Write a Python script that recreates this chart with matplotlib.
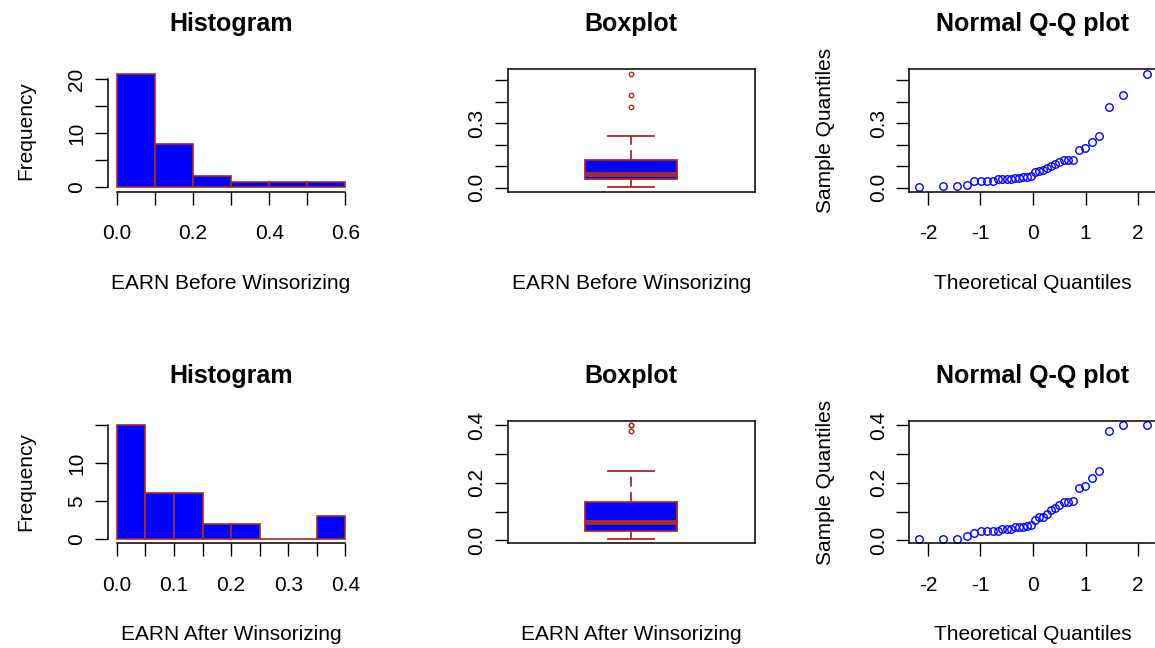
import numpy as np
import matplotlib
matplotlib.use("Agg")
import matplotlib.pyplot as plt
from statistics import NormalDist

plt.rcParams["font.family"] = ["Liberation Sans", "DejaVu Sans"]

# sorted EARN values for the 34 firms, before and after winsorizing
earn_before = [0.003, 0.010, 0.010, 0.011, 0.029, 0.029, 0.029, 0.030, 0.040,
               0.040, 0.040, 0.041, 0.047, 0.047, 0.048, 0.049, 0.056, 0.071,
               0.078, 0.082, 0.091, 0.101, 0.109, 0.121, 0.128, 0.129, 0.130,
               0.175, 0.183, 0.211, 0.239, 0.377, 0.433, 0.530]
earn_after = [0.006, 0.006, 0.006, 0.014, 0.025, 0.034, 0.034, 0.034, 0.034,
              0.041, 0.041, 0.041, 0.046, 0.046, 0.047, 0.052, 0.055, 0.072,
              0.080, 0.080, 0.092, 0.106, 0.113, 0.124, 0.132, 0.132, 0.136,
              0.182, 0.189, 0.216, 0.241, 0.379, 0.400, 0.400]

bins_before = [0.0, 0.1, 0.2, 0.3, 0.4, 0.5, 0.6]
bins_after = [0.0, 0.05, 0.1, 0.15, 0.2, 0.25, 0.3, 0.35, 0.4]

xlabels = ["EARN Before Winsorizing", "EARN After Winsorizing"]

hist_xticks = [[0.0, 0.2, 0.4, 0.6], [0.0, 0.1, 0.2, 0.3, 0.4]]
hist_yticks = [[0, 5, 10, 15, 20], [0, 5, 10, 15]]
hist_ylabels = [["0", "", "10", "", "20"], ["0", "5", "10", ""]]
val_yticks = [[0.0, 0.1, 0.2, 0.3, 0.4, 0.5], [0.0, 0.1, 0.2, 0.3, 0.4]]
val_ylabels = [["0.0", "", "", "0.3", "", ""], ["0.0", "", "0.2", "", "0.4"]]
qq_xticks = [-2, -1, 0, 1, 2]

BROWN = "#A52A2A"
W, H = 1155, 648
fig = plt.figure(figsize=(W / 100, H / 100), dpi=100)

col_left = [107.6, 507.7, 909.5]
col_w = 247.0
rows = [(69.3, 191.6), (420.7, 543.3)]


def px_axes(x0, y0, y1):
    return fig.add_axes([x0 / W, 1 - y1 / H, col_w / W, (y1 - y0) / H])


def style(ax, top, bottom, title):
    h = bottom - top
    ax.tick_params(direction="out", length=9.4, width=1.0, labelsize=15,
                   colors="black")
    ax.tick_params(axis="x", pad=14)
    ax.tick_params(axis="y", pad=6, labelrotation=90)
    for s in ax.spines.values():
        s.set_linewidth(1.1)
    ax.set_title(title, fontsize=18, fontweight="bold", pad=27.5)
    return h


def set_yticks(ax, ticks, labels):
    ax.set_yticks(ticks)
    ax.set_yticklabels(labels)
    # rotated labels centred on their ticks
    plt.setp(ax.get_yticklabels(), va="center")


def set_xlab(ax, text, h):
    ax.set_xlabel(text, fontsize=15, va="baseline")
    ax.xaxis.set_label_coords(0.5, -(288.7 - 191.6) / h)


def set_ylab(ax, text, x_px, left):
    ax.set_ylabel(text, fontsize=15, va="baseline")
    ax.yaxis.set_label_coords((x_px - left) / col_w, 0.5)


def padded(lo, hi, f=0.04):
    d = (hi - lo) * f
    return lo - d, hi + d


def fivenum_stats(vals):
    v = np.sort(np.asarray(vals))
    n = len(v)
    n4 = np.floor((n + 3) / 2) / 2
    idx = np.array([1, n4, (n + 1) / 2, n + 1 - n4, n]) - 1
    q = 0.5 * (v[np.floor(idx).astype(int)] + v[np.ceil(idx).astype(int)])
    iqr = q[3] - q[1]
    inside = v[(v >= q[1] - 1.5 * iqr) & (v <= q[3] + 1.5 * iqr)]
    return dict(med=q[2], q1=q[1], q3=q[3], whislo=inside.min(),
                whishi=inside.max(),
                fliers=v[(v < inside.min()) | (v > inside.max())])


datasets = [earn_before, earn_after]
bin_sets = [bins_before, bins_after]

for r, (data, bins) in enumerate(zip(datasets, bin_sets)):
    top, bottom = rows[r]

    # histogram
    ax = px_axes(col_left[0], top, bottom)
    h = style(ax, top, bottom, "Histogram")
    counts, _, _ = ax.hist(data, bins=bins, color="blue", edgecolor=BROWN,
                           linewidth=1.2)
    ax.set_xlim(*padded(bins[0], bins[-1]))
    ax.set_ylim(*padded(0, counts.max()))
    for s in ("top", "right"):
        ax.spines[s].set_visible(False)
    ax.spines["left"].set_bounds(hist_yticks[r][0], hist_yticks[r][-1])
    ax.spines["bottom"].set_bounds(bins[0], bins[-1])
    ax.set_xticks(hist_xticks[r])
    ax.set_xticklabels([f"{t:.1f}" for t in hist_xticks[r]])
    ax.set_xticks(bins, minor=True)
    ax.tick_params(which="minor", direction="out", length=9.4, width=1.0)
    set_yticks(ax, hist_yticks[r], hist_ylabels[r])
    set_xlab(ax, xlabels[r], h)
    set_ylab(ax, "Frequency", 31, col_left[0])

    # boxplot
    ax = px_axes(col_left[1], top, bottom)
    h = style(ax, top, bottom, "Boxplot")
    st = fivenum_stats(data)
    ax.bxp([st], positions=[1], widths=0.4, patch_artist=True,
           boxprops=dict(facecolor="blue", edgecolor=BROWN, linewidth=1.3),
           medianprops=dict(color=BROWN, linewidth=3.6, solid_capstyle="butt"),
           whiskerprops=dict(color=BROWN, linestyle=(0, (5.5, 3)),
                             linewidth=1.3),
           capprops=dict(color=BROWN, linewidth=1.3),
           flierprops=dict(marker="o", markersize=3.2, markerfacecolor="none",
                           markeredgecolor=BROWN, markeredgewidth=1.0))
    ax.set_xlim(0.46, 1.54)
    ax.set_ylim(*padded(min(data), max(data)))
    ax.set_xticks([])
    set_yticks(ax, val_yticks[r], val_ylabels[r])
    set_xlab(ax, xlabels[r], h)

    # normal Q-Q plot
    ax = px_axes(col_left[2], top, bottom)
    h = style(ax, top, bottom, "Normal Q-Q plot")
    n = len(data)
    theo = [NormalDist().inv_cdf((i - 0.5) / n) for i in range(1, n + 1)]
    ax.plot(theo, sorted(data), "o", markerfacecolor="none",
            markeredgecolor="blue", markersize=5.4, markeredgewidth=1.0)
    ax.set_xlim(*padded(min(theo), max(theo)))
    ax.set_ylim(*padded(min(data), max(data)))
    ax.set_xticks(qq_xticks)
    ax.set_xticklabels([str(t) for t in qq_xticks])
    set_yticks(ax, val_yticks[r], val_ylabels[r])
    set_xlab(ax, "Theoretical Quantiles", h)
    set_ylab(ax, "Sample Quantiles", 831, col_left[2])

fig.savefig("out.png", dpi=100)
